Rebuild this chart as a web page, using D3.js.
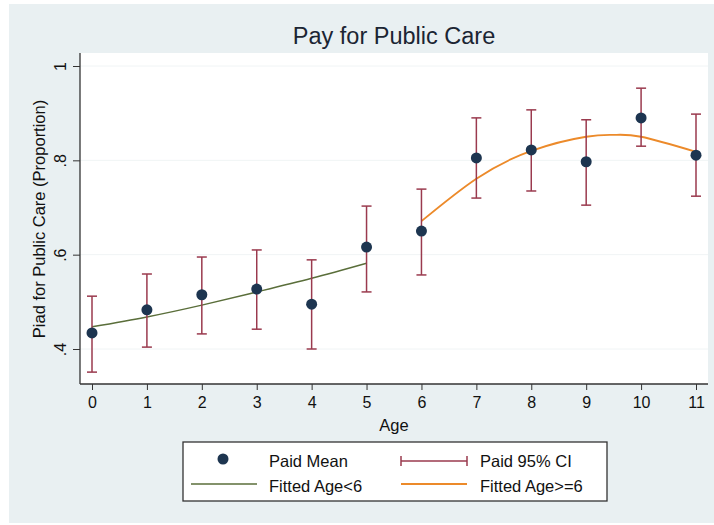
<!DOCTYPE html>
<html>
<head>
<meta charset="utf-8">
<script src="https://cdn.jsdelivr.net/npm/d3@7"></script>
<style>
  body { margin: 0; background: #fff; }
  svg { display: block; font-family: "Liberation Sans", Arial, sans-serif; }
</style>
</head>
<body>
<svg id="vis" width="714" height="525"></svg>
<script>
// ages 0..11
var ages = [0, 1, 2, 3, 4, 5, 6, 7, 8, 9, 10, 11];
var paidMean = [0.434, 0.483, 0.515, 0.527, 0.495, 0.616, 0.650, 0.805, 0.822, 0.797, 0.890, 0.811];
var ciLow   = [0.351, 0.404, 0.432, 0.442, 0.400, 0.521, 0.557, 0.720, 0.735, 0.705, 0.830, 0.724];
var ciHigh  = [0.512, 0.559, 0.595, 0.610, 0.589, 0.703, 0.739, 0.890, 0.907, 0.886, 0.953, 0.898];

// fitted values
var fitYoungAge = [0, 1, 2, 3, 4, 5];
var fitYoung    = [0.447, 0.468, 0.493, 0.521, 0.550, 0.582];
var fitOldAge   = [6, 7, 8, 9, 9.5, 10, 11];
var fitOld      = [0.671, 0.761, 0.820, 0.850, 0.854, 0.850, 0.818];

var yTicks = [0.4, 0.6, 0.8, 1];
var yTickLabels = ['.4', '.6', '.8', '1'];

var svg = d3.select('#vis');

// stata style background panel
svg.append('rect')
    .attr('x', 9).attr('y', 4)
    .attr('width', 705).attr('height', 519)
    .attr('fill', '#e9f0f2');

var plot = {left: 80, right: 708, top: 53, bottom: 384};

svg.append('rect')
    .attr('x', plot.left).attr('y', plot.top)
    .attr('width', plot.right - plot.left).attr('height', plot.bottom - plot.top)
    .attr('fill', '#ffffff');

var x = d3.scaleLinear().domain([0, 11]).range([92, 696]);
var y = d3.scaleLinear().domain([0.4, 1]).range([349, 66]);

// faint grid lines
svg.append('g').selectAll('line')
    .data(yTicks)
    .enter().append('line')
    .attr('x1', plot.left).attr('x2', plot.right)
    .attr('y1', function(d){ return y(d); })
    .attr('y2', function(d){ return y(d); })
    .attr('stroke', '#f0f4f5')
    .attr('stroke-width', 1);

// axes
var yAxis = d3.axisLeft(y)
    .tickValues(yTicks)
    .tickFormat(function(d, i){ return yTickLabels[i]; })
    .tickSize(7);

var yG = svg.append('g')
    .attr('transform', 'translate(' + plot.left + ',0)')
    .call(yAxis);
yG.select('.domain').attr('d', 'M0,' + plot.top + 'V' + plot.bottom);
//rotated stata-style labels
yG.selectAll('.tick text')
    .attr('transform', 'translate(-14,0) rotate(-90)')
    .attr('x', 0).attr('y', 0).attr('dy', 0)
    .style('text-anchor', 'middle')
    .attr('font-size', 16)
    .attr('fill', '#111');

var xAxis = d3.axisBottom(x)
    .tickValues(ages)
    .tickFormat(d3.format('d'))
    .tickSize(6)
    .tickPadding(6);

var xG = svg.append('g')
    .attr('transform', 'translate(0,' + plot.bottom + ')')
    .call(xAxis);
xG.select('.domain').attr('d', 'M' + plot.left + ',0H' + plot.right);
xG.selectAll('.tick text')
    .attr('y', 24).attr('dy', 0)
    .attr('font-size', 16).attr('fill', '#111');

svg.selectAll('.domain').attr('stroke', '#333').attr('stroke-width', 1.3);
svg.selectAll('.tick line').attr('stroke', '#333');
svg.selectAll('.tick text').style('font-family', '"Liberation Sans", Arial, sans-serif');

// fitted lines
var lineYoung = d3.line()
    .x(function(d, i){ return x(fitYoungAge[i]); })
    .y(function(d){ return y(d); })
    .curve(d3.curveNatural);

svg.append('path')
    .datum(fitYoung)
    .attr('d', lineYoung)
    .attr('fill', 'none')
    .attr('stroke', '#5a6e3a')
    .attr('stroke-width', 1.5);

var lineOld = d3.line()
    .x(function(d, i){ return x(fitOldAge[i]); })
    .y(function(d){ return y(d); })
    .curve(d3.curveNatural);

svg.append('path')
    .datum(fitOld)
    .attr('d', lineOld)
    .attr('fill', 'none')
    .attr('stroke', '#ec8a2a')
    .attr('stroke-width', 1.8);

// confidence intervals
var ciColor = '#9a3a4e';
var ci = svg.append('g').selectAll('g')
    .data(ages)
    .enter().append('g');

ci.append('line')
    .attr('x1', function(d){ return x(d); })
    .attr('x2', function(d){ return x(d); })
    .attr('y1', function(d, i){ return y(ciLow[i]); })
    .attr('y2', function(d, i){ return y(ciHigh[i]); })
    .attr('stroke', ciColor).attr('stroke-width', 1.5);

ci.append('line')
    .attr('x1', function(d){ return x(d) - 5; })
    .attr('x2', function(d){ return x(d) + 5; })
    .attr('y1', function(d, i){ return y(ciLow[i]); })
    .attr('y2', function(d, i){ return y(ciLow[i]); })
    .attr('stroke', ciColor).attr('stroke-width', 1.5);

ci.append('line')
    .attr('x1', function(d){ return x(d) - 5; })
    .attr('x2', function(d){ return x(d) + 5; })
    .attr('y1', function(d, i){ return y(ciHigh[i]); })
    .attr('y2', function(d, i){ return y(ciHigh[i]); })
    .attr('stroke', ciColor).attr('stroke-width', 1.5);

// means
svg.append('g').selectAll('circle')
    .data(ages)
    .enter().append('circle')
    .attr('cx', function(d){ return x(d); })
    .attr('cy', function(d, i){ return y(paidMean[i]); })
    .attr('r', 5.5)
    .attr('fill', '#1d3550');

// titles
svg.append('text')
    .attr('x', 394).attr('y', 44)
    .attr('text-anchor', 'middle')
    .attr('font-size', 23.5)
    .attr('fill', '#1b2533')
    .text('Pay for Public Care');

svg.append('text')
    .attr('x', 394).attr('y', 431)
    .attr('text-anchor', 'middle')
    .attr('font-size', 16.5)
    .attr('fill', '#111')
    .text('Age');

svg.append('text')
    .attr('transform', 'translate(45,219) rotate(-90)')
    .attr('text-anchor', 'middle')
    .attr('font-size', 16.5)
    .attr('fill', '#111')
    .text('Piad for Public Care (Proportion)');

// legend
var legend = svg.append('g');
legend.append('rect')
    .attr('x', 183).attr('y', 442)
    .attr('width', 424).attr('height', 59)
    .attr('fill', '#fff')
    .attr('stroke', '#333').attr('stroke-width', 1.3);

legend.append('circle')
    .attr('cx', 223).attr('cy', 459).attr('r', 5.5)
    .attr('fill', '#1d3550');

legend.append('line')
    .attr('x1', 401).attr('x2', 467).attr('y1', 461).attr('y2', 461)
    .attr('stroke', ciColor).attr('stroke-width', 1.5);
legend.append('line')
    .attr('x1', 401).attr('x2', 401).attr('y1', 456).attr('y2', 466)
    .attr('stroke', ciColor).attr('stroke-width', 1.5);
legend.append('line')
    .attr('x1', 467).attr('x2', 467).attr('y1', 456).attr('y2', 466)
    .attr('stroke', ciColor).attr('stroke-width', 1.5);

legend.append('line')
    .attr('x1', 191).attr('x2', 257).attr('y1', 484).attr('y2', 484)
    .attr('stroke', '#5a6e3a').attr('stroke-width', 1.5);
legend.append('line')
    .attr('x1', 401).attr('x2', 467).attr('y1', 484).attr('y2', 484)
    .attr('stroke', '#ec8a2a').attr('stroke-width', 1.8);

var legendItems = [
    {name: 'Paid Mean', x: 269, y: 467},
    {name: 'Paid 95% CI', x: 480, y: 467},
    {name: 'Fitted Age<6', x: 269, y: 492},
    {name: 'Fitted Age>=6', x: 480, y: 492}
];
legend.selectAll('.legend-text')
    .data(legendItems)
    .enter().append('text')
    .attr('x', function(d){ return d.x; })
    .attr('y', function(d){ return d.y; })
    .attr('font-size', 16.5)
    .attr('fill', '#111')
    .text(function(d){ return d.name; });
</script>
</body>
</html>
